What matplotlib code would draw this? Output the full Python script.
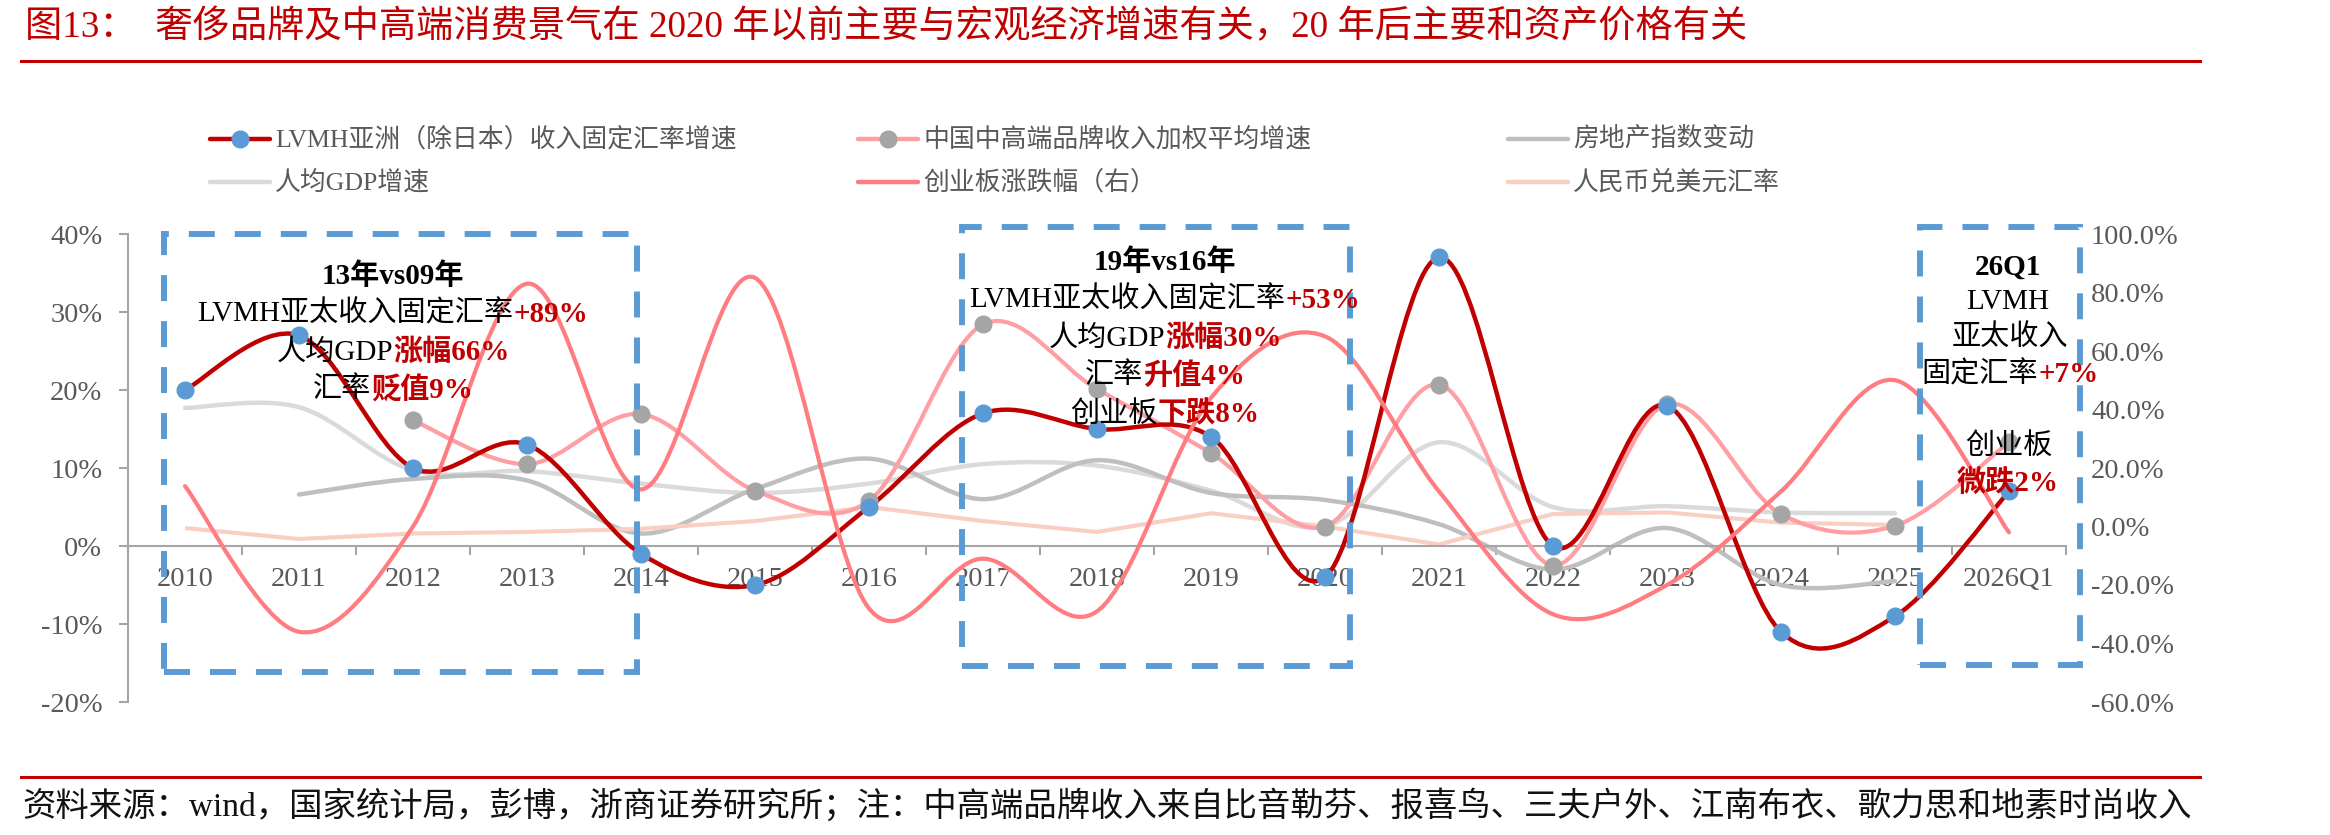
import matplotlib
matplotlib.use('Agg')
import matplotlib.pyplot as plt
from matplotlib.path import Path
from matplotlib.patches import PathPatch, Rectangle
from matplotlib.lines import Line2D
import numpy as np

# ---------------- data ----------------
categories = ['2010', '2011', '2012', '2013', '2014', '2015', '2016', '2017', '2018',
              '2019', '2020', '2021', '2022', '2023', '2024', '2025', '2026Q1']
lvmh_asia = [20, 27, 10, 13, -1, -5, 5, 17, 15, 14, -4, 37, 0, 18, -11, -9, 7]
brand_growth = [None, None, 16.1, 10.5, 16.9, 7.1, 5.8, 28.4, 20.1, 11.9, 2.5, 20.7,
                -2.5, 18.2, 4.1, 2.6, 13.3]
property_index = [None, 6.6, 8.6, 8.4, 1.6, 7.3, 11.2, 6.0, 11.0, 6.8, 5.9, 2.8,
                  -3.0, 2.3, -5.0, -4.5, None]
gdp_per_capita = [17.7, 17.8, 9.7, 9.6, 8.0, 6.8, 8.0, 10.5, 10.3, 7.1, 2.5, 13.3,
                  5.0, 5.1, 4.3, 4.2, None]
chinext = [13.8, -36, 0, 83, 12.7, 85, -28, -11, -29, 44, 65, 12, -30, -20, 12, 50, -2]
usdcny = [2.3, 0.9, 1.6, 1.8, 2.2, 3.2, 5.0, 3.2, 1.8, 4.2, 2.5, 0.2, 4.1, 4.3, 3.0, 2.7, None]
left_ticks = [-20, -10, 0, 10, 20, 30, 40]
right_ticks = [-60, -40, -20, 0, 20, 40, 60, 80, 100]
series_names = ['LVMH亚洲（除日本）收入固定汇率增速', '中国中高端品牌收入加权平均增速', '房地产指数变动',
                '人均GDP增速', '创业板涨跌幅（右）', '人民币兑美元汇率']
title = '图13：  奢侈品牌及中高端消费景气在 2020 年以前主要与宏观经济增速有关，20 年后主要和资产价格有关'
footer = '资料来源：wind，国家统计局，彭博，浙商证券研究所；注：中高端品牌收入来自比音勒芬、报喜鸟、三夫户外、江南布衣、歌力思和地素时尚收入'

# ---------------- style ----------------
W, H, DPI = 2330, 835, 100
SER = ['Liberation Serif', 'Noto Sans CJK SC', 'DejaVu Sans']
plt.rcParams['font.family'] = SER
plt.rcParams['lines.scale_dashes'] = False

C_LVMH = '#C00000'
C_BLUE = '#5B9BD5'
C_BRAND = '#FF9EA3'
C_GRAYMK = '#A5A5A5'
C_PROP = '#BFBFBF'
C_GDP = '#DADADA'
C_CHINEXT = '#FF7C80'
C_FX = '#F9CFC4'
C_AXIS = '#A6A6A6'
C_TXT = '#595959'
RED = '#C00000'

fig = plt.figure(figsize=(W / DPI, H / DPI), dpi=DPI)


def fx(px):
    return px / W


def fy(py):
    return 1 - py / H


ax = fig.add_axes([fx(128), fy(702), fx(2066) - fx(128), fy(234) - fy(702)])
ax2 = ax.twinx()


def smooth_path(xs, ys):
    pts = np.column_stack([xs, ys]).astype(float)
    n = len(pts)
    verts = [pts[0]]
    codes = [Path.MOVETO]
    for i in range(n - 1):
        p0 = pts[i - 1] if i > 0 else pts[i]
        p1 = pts[i]
        p2 = pts[i + 1]
        p3 = pts[i + 2] if i + 2 < n else pts[i + 1]
        c1 = p1 + (p2 - p0) / 6.0
        c2 = p2 - (p3 - p1) / 6.0
        verts += [c1, c2, p2]
        codes += [Path.CURVE4] * 3
    return Path(verts, codes)


def draw_series(axis, values, color, lw, z, smooth=True, marker_color=None):
    idx = [i for i, v in enumerate(values) if v is not None]
    xs = np.array(idx, float)
    ys = np.array([values[i] for i in idx], float)
    if smooth:
        patch = PathPatch(smooth_path(xs, ys), fill=False, edgecolor=color, lw=lw,
                          zorder=z, capstyle='round', joinstyle='round')
        axis.add_patch(patch)
    else:
        axis.plot(xs, ys, color=color, lw=lw, zorder=z, solid_joinstyle='miter',
                  solid_capstyle='butt')
    if marker_color:
        axis.plot(xs, ys, 'o', ls='none', ms=12, mfc=marker_color, mec=marker_color,
                  zorder=z + 5)


draw_series(ax, gdp_per_capita, C_GDP, 3.2, 2)
draw_series(ax, property_index, C_PROP, 3.2, 2.2)
draw_series(ax, usdcny, C_FX, 3.0, 2.4, smooth=False)
draw_series(ax, brand_growth, C_BRAND, 3.0, 2.6, marker_color=C_GRAYMK)
draw_series(ax, lvmh_asia, C_LVMH, 3.2, 2.8, marker_color=C_BLUE)
draw_series(ax2, chinext, C_CHINEXT, 3.0, 2)

n = len(categories)
ax.set_xlim(-0.5, n - 0.5)
ax.set_ylim(-20, 40)
ax2.set_ylim(-60, 100)

for s in ['top', 'right']:
    ax.spines[s].set_visible(False)
for s in ax2.spines.values():
    s.set_visible(False)
ax.spines['left'].set_color(C_AXIS)
ax.spines['left'].set_linewidth(1.5)
ax.spines['bottom'].set_color(C_AXIS)
ax.spines['bottom'].set_linewidth(1.5)
ax.spines['bottom'].set_position(('data', 0))

ax.set_xticks(np.arange(-0.5, n, 1.0))
ax.set_xticklabels([])
ax.set_xticks(np.arange(n), minor=True)
ax.set_xticklabels(categories, minor=True)
ax.tick_params(axis='x', which='major', direction='out', length=6.5, width=1.5, color=C_AXIS)
ax.tick_params(axis='x', which='minor', length=0, pad=15, labelsize=20.5, labelcolor=C_TXT)
ax.set_yticks(left_ticks)
ax.set_yticklabels([f'{v}%' for v in left_ticks])
ax.tick_params(axis='y', direction='out', length=6.5, width=1.5, color=C_AXIS, pad=12,
               labelsize=20.5, labelcolor=C_TXT)
ax2.set_yticks(right_ticks)
ax2.set_yticklabels([f'{v:.1f}%' for v in right_ticks])
ax2.tick_params(axis='y', length=0, pad=18, labelsize=20.5, labelcolor=C_TXT)
ax.patch.set_visible(False)

# ---------------- title / footer ----------------
fig.text(fx(25), fy(28), title, fontsize=26.8, color=RED, ha='left', va='center')
fig.add_artist(Line2D([fx(21), fx(2200)], [fy(61), fy(61)], color=RED, lw=2.2))
fig.add_artist(Line2D([fx(21), fx(2200)], [fy(777), fy(777)], color=RED, lw=2.2))
fig.text(fx(22), fy(806), footer, fontsize=24, color='#111111', ha='left', va='center')

# ---------------- legend ----------------
leg_styles = [(C_LVMH, C_BLUE), (C_BRAND, C_GRAYMK), (C_PROP, None),
              (C_GDP, None), (C_CHINEXT, None), (C_FX, None)]
col_x = [210, 858, 1508]
row_y = [139, 182]
for k, (name, (lc, mc)) in enumerate(zip(series_names, leg_styles)):
    x0 = col_x[k % 3]
    y0 = row_y[k // 3]
    fig.add_artist(Line2D([fx(x0), fx(x0 + 60)], [fy(y0), fy(y0)], color=lc, lw=3.2,
                          solid_capstyle='round'))
    if mc:
        fig.add_artist(Line2D([fx(x0 + 30)], [fy(y0)], marker='o', ms=12, mfc=mc, mec=mc, ls='none'))
    fig.text(fx(x0 + 65), fy(y0), name, fontsize=18.6, color=C_TXT, ha='left', va='center')

# ---------------- annotation boxes ----------------
boxes = [(164, 234, 637, 672), (962, 227, 1350, 666), (1920, 227, 2080, 665)]
for (x0, y0, x1, y1) in boxes:
    fig.add_artist(Rectangle((fx(x0), fy(y1)), fx(x1) - fx(x0), fy(y0) - fy(y1),
                             transform=fig.transFigure, fill=False, ec=C_BLUE, lw=4.3,
                             ls=(0, (18.7, 14.4)), zorder=4))

renderer = fig.canvas.get_renderer()


def rich_line(cx, cy, parts, size=21):
    texts, widths = [], []
    for s, color, weight in parts:
        t = fig.text(0, fy(cy), s, fontsize=size, color=color, fontweight=weight,
                     ha='left', va='center_baseline', zorder=6)
        widths.append(t.get_window_extent(renderer).width)
        texts.append(t)
    x = cx - sum(widths) / 2
    for t, w in zip(texts, widths):
        t.set_x(fx(x))
        x += w


K, N, B = 'black', 'normal', 'bold'
notes = [
    (393, 273, [('13年vs09年', K, B)]),
    (393, 311, [('LVMH亚太收入固定汇率', K, N), ('+89%', RED, B)]),
    (393, 349, [('人均GDP', K, N), ('涨幅66%', RED, B)]),
    (393, 387, [('汇率', K, N), ('贬值9%', RED, B)]),
    (1165, 259, [('19年vs16年', K, B)]),
    (1165, 297, [('LVMH亚太收入固定汇率', K, N), ('+53%', RED, B)]),
    (1165, 335, [('人均GDP', K, N), ('涨幅30%', RED, B)]),
    (1165, 373, [('汇率', K, N), ('升值4%', RED, B)]),
    (1165, 411, [('创业板', K, N), ('下跌8%', RED, B)]),
    (2008, 264, [('26Q1', K, B)]),
    (2008, 299, [('LVMH', K, N)]),
    (2010, 334, [('亚太收入', K, N)]),
    (2010, 372, [('固定汇率', K, N), ('+7%', RED, B)]),
    (2009, 443, [('创业板', K, N)]),
    (2008, 481, [('微跌2%', RED, B)]),
]
for cx, cy, parts in notes:
    rich_line(cx, cy, parts)

fig.savefig('out.png', dpi=DPI, facecolor='white')
